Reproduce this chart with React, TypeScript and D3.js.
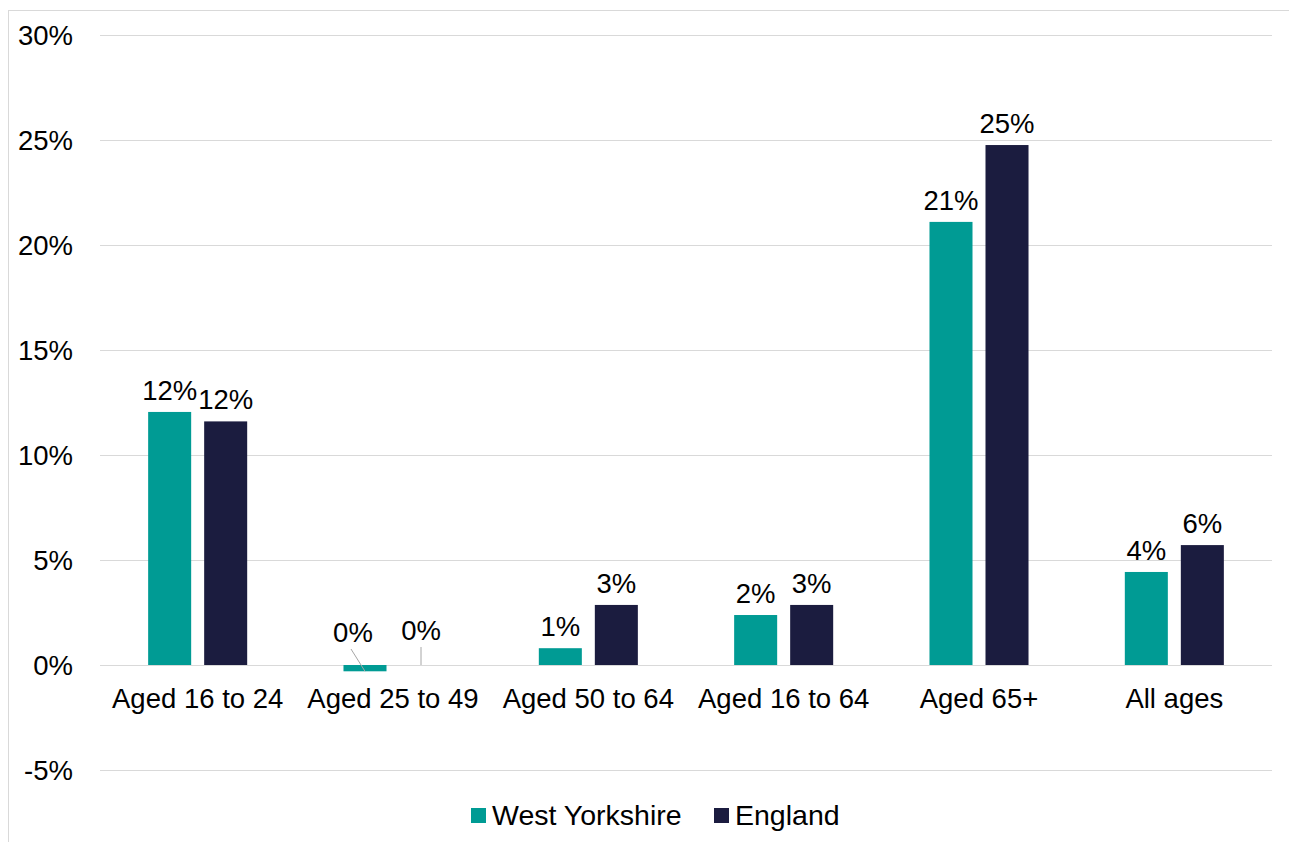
import React, { useEffect } from 'react';
import * as d3 from 'd3';

const categories = ['Aged 16 to 24', 'Aged 25 to 49', 'Aged 50 to 64', 'Aged 16 to 64', 'Aged 65+', 'All ages'];
const westYorkshire = [12.05, -0.3, 0.8, 2.38, 21.1, 4.43];
const england = [11.6, 0.0, 2.86, 2.86, 24.76, 5.71];
const seriesNames = ['West Yorkshire', 'England'];
const seriesColors = ['#009B94', '#1B1C3F'];
const yTicks = [-5, 0, 5, 10, 15, 20, 25, 30];

const W = 1289;
const H = 842;
const margin = { left: 100, right: 17 };
const FONT = 'Liberation Sans, Arial, sans-serif';
const FS = 27.5;

export default function App() {
  useEffect(() => {
    document.body.style.margin = '0';
  }, []);

  const x0 = d3
    .scaleBand<string>()
    .domain(categories)
    .range([margin.left, W - margin.right])
    .paddingInner(0.493)
    .paddingOuter(0.2465);
  const x1 = d3
    .scaleBand<string>()
    .domain(seriesNames)
    .range([0, x0.bandwidth()])
    .paddingInner(0.232);
  const y = d3.scaleLinear().domain([-5, 30]).range([770, 35]);

  const series = [westYorkshire, england];

  return (
    <svg width={W} height={H} style={{ display: 'block', background: '#fff' }} fontFamily={FONT}>
      <rect x={8.5} y={10.5} width={W} height={H} fill="none" stroke="#d9d9d9" strokeWidth={1} />
      {yTicks.map(t => (
        <g key={t}>
          <line x1={margin.left} x2={W - margin.right} y1={y(t) + 0.5} y2={y(t) + 0.5} stroke="#d9d9d9" strokeWidth={1} />
          <text x={73} y={y(t)} dy="0.35em" textAnchor="end" fontSize={FS} fill="#000">
            {`${t}%`}
          </text>
        </g>
      ))}
      {categories.map((c, i) => (
        <g key={c}>
          {series.map((vals, s) => {
            const v = vals[i];
            const bx = (x0(c) ?? 0) + (x1(seriesNames[s]) ?? 0);
            const bw = x1.bandwidth();
            const top = Math.min(y(v), y(0));
            const h = Math.abs(y(v) - y(0));
            const cx = bx + bw / 2;
            const label = `${Math.round(v) === 0 ? 0 : Math.round(v)}%`;
            const small = Math.abs(v) < 0.5;
            const ly = small ? y(0) - (s === 0 ? 23 : 25) : y(Math.max(v, 0)) - 12;
            const lx = small ? cx + (s === 0 ? -12 : 0) : cx;
            return (
              <g key={s}>
                {h > 0 && <rect x={bx} y={top} width={bw} height={h} fill={seriesColors[s]} />}
                {small && (
                  <line
                    x1={s === 0 ? lx - 2 : cx}
                    y1={y(0) - (s === 0 ? 16 : 18)}
                    x2={cx}
                    y2={s === 0 ? y(v) : y(0)}
                    stroke="#a6a6a6"
                    strokeWidth={1}
                  />
                )}
                <text x={lx} y={ly} textAnchor="middle" fontSize={FS} fill="#000">
                  {label}
                </text>
              </g>
            );
          })}
          <text x={(x0(c) ?? 0) + x0.bandwidth() / 2} y={698} dy="0.35em" textAnchor="middle" fontSize={FS} fill="#000">
            {c}
          </text>
        </g>
      ))}
      <g>
        <rect x={471} y={808} width={15} height={15} fill={seriesColors[0]} />
        <text x={492} y={815} dy="0.35em" fontSize={28.5} fill="#000">{seriesNames[0]}</text>
        <rect x={714} y={808} width={15} height={15} fill={seriesColors[1]} />
        <text x={735} y={815} dy="0.35em" fontSize={28.5} fill="#000">{seriesNames[1]}</text>
      </g>
    </svg>
  );
}
